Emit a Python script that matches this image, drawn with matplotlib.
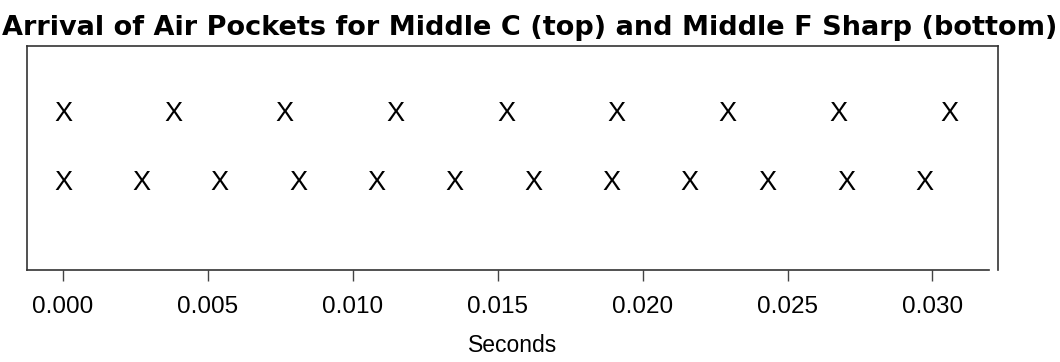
import matplotlib
matplotlib.use("Agg")
import matplotlib.pyplot as plt

plt.rcParams['font.family'] = ['Liberation Sans', 'DejaVu Sans']

# arrival times in seconds
middle_c = [0.0, 0.00382, 0.00764, 0.01147, 0.01529, 0.01911, 0.02293, 0.02676, 0.03058]
f_sharp = [0.0, 0.00270, 0.00541, 0.00811, 0.01081, 0.01351, 0.01622, 0.01892,
           0.02162, 0.02432, 0.02703, 0.02973]
rows = [1, 0]  # top row, bottom row
xticks = [0.000, 0.005, 0.010, 0.015, 0.020, 0.025, 0.030]
title = "Arrival of Air Pockets for Middle C (top) and Middle F Sharp (bottom)"

fig = plt.figure(figsize=(10.6, 3.62), dpi=100)
ax = fig.add_axes([0.0255, 0.254, 0.916, 0.619])

for t in middle_c:
    ax.text(t, rows[0], "X", ha="center", va="center", fontsize=19.5)
for t in f_sharp:
    ax.text(t, rows[1], "X", ha="center", va="center", fontsize=19.5)

ax.set_xlim(-0.00124, 0.03226)
ax.set_ylim(-1.26, 1.99)
ax.set_xticks(xticks)
ax.set_xticklabels(["%.3f" % v for v in xticks])
ax.set_yticks([])
ax.tick_params(axis="x", length=8, width=1, color="#444444", pad=10.5, labelsize=17.5)
for s in ax.spines.values():
    s.set_color("#333333")
    s.set_linewidth(1.2)
ax.spines["bottom"].set_bounds(-0.00124, 0.03195)
ax.set_xlabel("Seconds", fontsize=16.5, labelpad=12)

fig.text(0.5, 0.903, title, ha="center", va="baseline", fontsize=19.5,
         fontweight="bold", family=["DejaVu Sans"])

fig.savefig("out.png", dpi=100)
